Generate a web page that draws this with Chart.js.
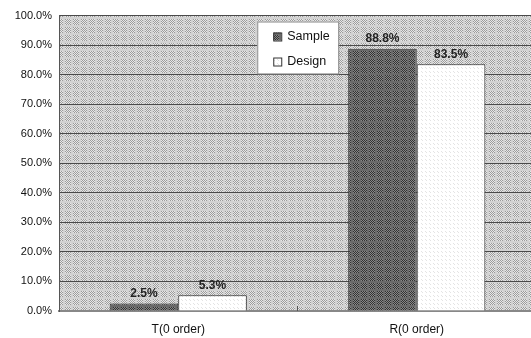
<!DOCTYPE html>
<html>
<head>
<meta charset="utf-8">
<script src="https://cdn.jsdelivr.net/npm/chart.js@4.4.0/dist/chart.umd.min.js"></script>
<style>
  html, body { margin: 0; padding: 0; background: #ffffff; overflow: hidden; }
  #wrap { position: relative; width: 536px; height: 336px; margin-top: 2px; }
</style>
</head>
<body>
<div id="wrap"><canvas id="chart"></canvas></div>
<script>
// Chart data
const categories = ['T(0 order)', 'R(0 order)'];
const seriesNames = ['Sample', 'Design'];
const sampleValues = [2.5, 88.8];
const designValues = [5.3, 83.5];
const yTicks = [0, 10, 20, 30, 40, 50, 60, 70, 80, 90, 100];

// Dithered fill patterns drawn on small tiles
function makePattern(size, base, cellA, cellB, inner) {
  const c = document.createElement('canvas');
  c.width = size; c.height = size;
  const g = c.getContext('2d');
  g.fillStyle = base;
  g.fillRect(0, 0, size, size);
  for (let y = 0; y < inner; y++) {
    for (let x = 0; x < inner; x++) {
      g.fillStyle = ((x + y) % 2 === 0) ? cellA : cellB;
      g.fillRect(x + 1, y + 1, 1, 1);
    }
  }
  return g.createPattern(c, 'repeat');
}
const ctx0 = document.getElementById('chart').getContext('2d');
const plotFill = makePattern(8, '#d2d2d2', '#9c9c9c', '#e8e8e8', 6);
const sampleFill = makePattern(8, '#6a6a6a', '#333333', '#888888', 6);
const designFill = makePattern(4, '#ffffff', '#e4e4e4', '#ffffff', 2);

// Hatched plot background
const plotBackground = {
  id: 'plotBackground',
  beforeDraw(chart) {
    const { ctx, chartArea: a } = chart;
    ctx.save();
    ctx.fillStyle = plotFill;
    ctx.fillRect(a.left, a.top, a.right - a.left, a.bottom - a.top);
    ctx.restore();
  }
};

// Small inward tick marks at category boundaries on the bottom axis
const categoryTicks = {
  id: 'categoryTicks',
  afterDatasetsDraw(chart) {
    const { ctx, chartArea: a } = chart;
    const xs = chart.scales.x;
    ctx.save();
    ctx.strokeStyle = '#555555';
    ctx.lineWidth = 1;
    for (let i = 1; i < categories.length; i++) {
      const x = Math.round((xs.getPixelForValue(i - 1) + xs.getPixelForValue(i)) / 2) - 0.5;
      ctx.beginPath();
      ctx.moveTo(x, a.bottom);
      ctx.lineTo(x, a.bottom - 5);
      ctx.stroke();
    }
    ctx.restore();
  }
};

// Value labels above each bar
const valueLabels = {
  id: 'valueLabels',
  afterDatasetsDraw(chart) {
    const { ctx } = chart;
    ctx.save();
    ctx.font = 'bold 12px "Liberation Sans", Arial, sans-serif';
    ctx.fillStyle = '#222222';
    ctx.textAlign = 'center';
    ctx.textBaseline = 'bottom';
    chart.data.datasets.forEach((ds, i) => {
      chart.getDatasetMeta(i).data.forEach((bar, j) => {
        ctx.fillText(ds.data[j].toFixed(1) + '%', bar.x, bar.y - 4);
      });
    });
    ctx.restore();
  }
};

// Boxed legend inside the plot
const boxLegend = {
  id: 'boxLegend',
  afterDraw(chart) {
    const { ctx } = chart;
    const xs = chart.scales.x, ys = chart.scales.y;
    const left = xs.getPixelForValue(0) + 79;
    const top = ys.getPixelForValue(98);
    const w = 81, h = 52;
    ctx.save();
    ctx.fillStyle = '#ffffff';
    ctx.fillRect(left, top, w, h);
    ctx.strokeStyle = '#8a8a8a';
    ctx.lineWidth = 1;
    ctx.strokeRect(left + 0.5, top + 0.5, w, h);
    ctx.font = '12.5px "Liberation Sans", Arial, sans-serif';
    ctx.textBaseline = 'middle';
    ctx.textAlign = 'left';
    chart.data.datasets.forEach((ds, i) => {
      const cy = top + 15 + i * 25;
      ctx.fillStyle = ds.backgroundColor;
      ctx.fillRect(left + 16, cy - 4, 8, 8);
      ctx.strokeStyle = '#333333';
      ctx.strokeRect(left + 16.5, cy - 3.5, 8, 8);
      ctx.fillStyle = '#111111';
      ctx.fillText(ds.label, left + 30, cy);
    });
    ctx.restore();
  }
};

new Chart(ctx0, {
  type: 'bar',
  data: {
    labels: categories,
    datasets: [
      { label: seriesNames[0], data: sampleValues, backgroundColor: sampleFill,
        borderColor: '#333333', borderWidth: 1 },
      { label: seriesNames[1], data: designValues, backgroundColor: designFill,
        borderColor: '#333333', borderWidth: 1 }
    ]
  },
  options: {
    responsive: true,
    maintainAspectRatio: false,
    animation: false,
    layout: { padding: { top: 12, right: 0, bottom: 0, left: 0 } },
    plugins: { legend: { display: false }, tooltip: { enabled: false } },
    datasets: { bar: { categoryPercentage: 0.575, barPercentage: 1.0 } },
    scales: {
      x: {
        grid: { display: false, drawTicks: false },
        border: { color: '#888888', width: 2 },
        ticks: {
          color: '#111111',
          font: { family: '"Liberation Sans", Arial, sans-serif', size: 12 },
          padding: 11
        },
        afterFit(scale) { scale.height = 27; }
      },
      y: {
        min: 0, max: 100,
        afterBuildTicks(scale) { scale.ticks = yTicks.map(v => ({ value: v })); },
        grid: { color: '#4a4a4a', lineWidth: 1, drawTicks: false },
        border: { color: '#555555', width: 1 },
        ticks: {
          color: '#111111',
          font: { family: '"Liberation Sans", Arial, sans-serif', size: 11 },
          padding: 7,
          callback: v => v.toFixed(1) + '%'
        },
        afterFit(scale) { scale.width = 59; }
      }
    }
  },
  plugins: [plotBackground, categoryTicks, valueLabels, boxLegend]
});
</script>
</body>
</html>
